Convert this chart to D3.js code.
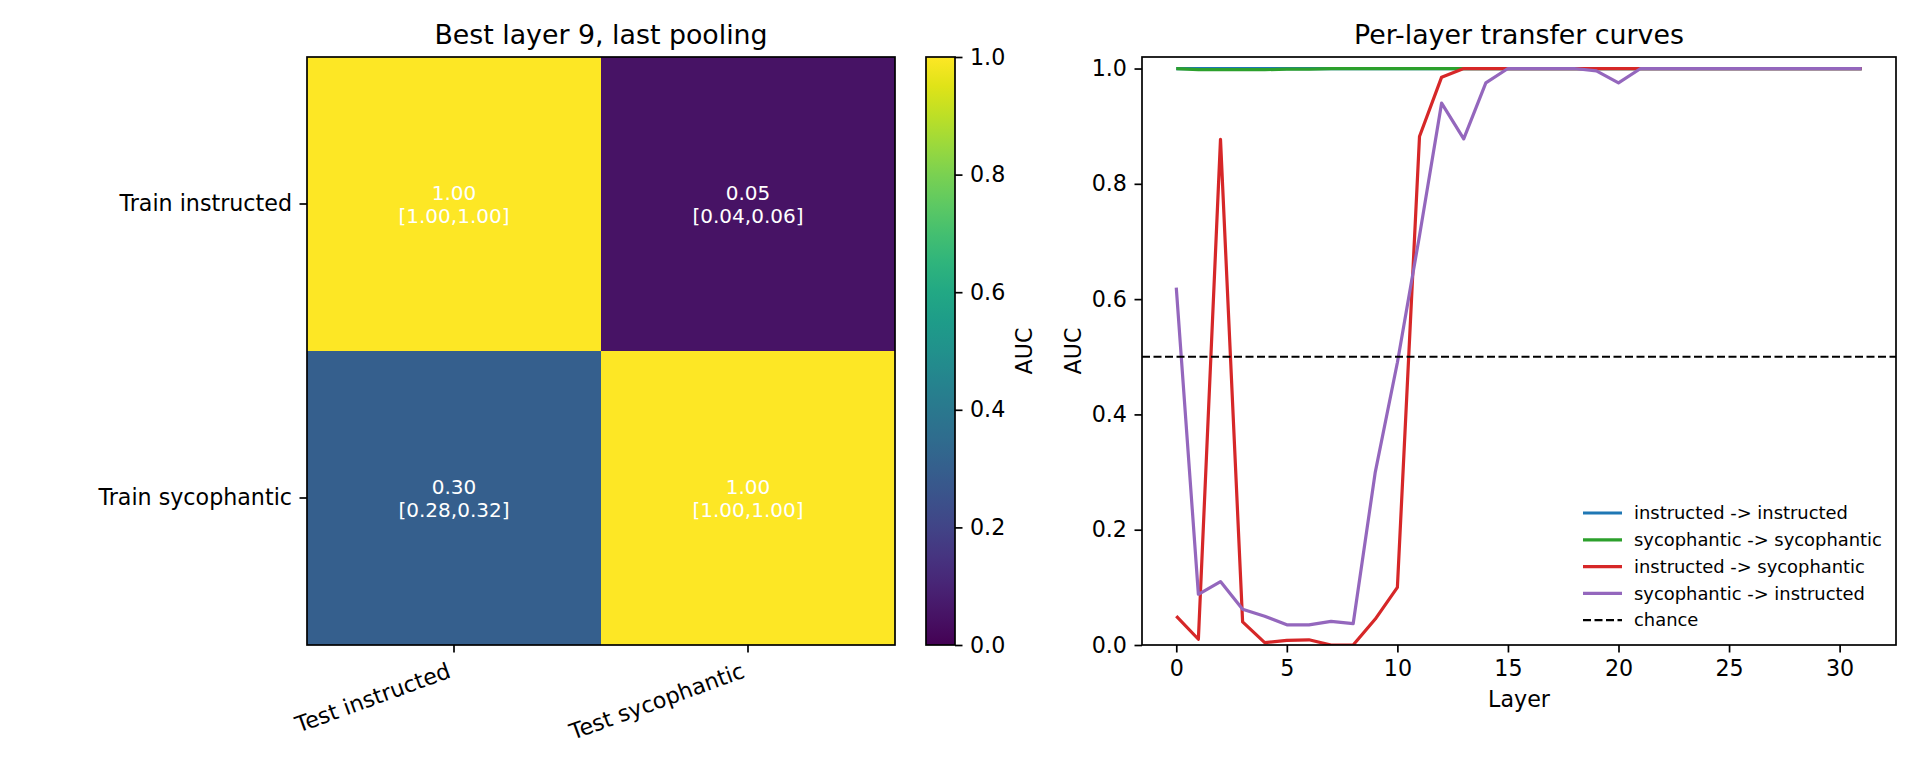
<!DOCTYPE html>
<html>
<head>
<meta charset="utf-8">
<script src="https://cdn.jsdelivr.net/npm/d3@7/dist/d3.min.js"></script>
<style>
body { margin: 0; background: #fff; }
svg, .axis { font-family: "DejaVu Sans", sans-serif; }
.axis path, .axis line { stroke: #000; stroke-width: 1.7; }
.axis text { font-family: "DejaVu Sans", sans-serif; font-size: 22.2px; fill: #000; }
.title { font-size: 26.8px; fill: #000; }
</style>
</head>
<body>
<svg id="fig" width="1920" height="768"></svg>
<script>
// heatmap data (best layer 9, last pooling)
var trainRows = ["Train instructed", "Train sycophantic"];
var testCols = ["Test instructed", "Test sycophantic"];
var aucMatrix = [[1.00, 0.05], [0.30, 1.00]];
var ciLow = [[1.00, 0.04], [0.28, 1.00]];
var ciHigh = [[1.00, 0.06], [0.32, 1.00]];
var cbarTicks = [0, 0.2, 0.4, 0.6, 0.8, 1.0];

// per-layer curves
var layers = [0,1,2,3,4,5,6,7,8,9,10,11,12,13,14,15,16,17,18,19,20,21,22,23,24,25,26,27,28,29,30,31];
var instrToInstr = [1,1,1,1,1,1,1,1,1,1,1,1,1,1,1,1,1,1,1,1,1,1,1,1,1,1,1,1,1,1,1,1];
var sycToSyc = [1.0,0.998,0.998,0.998,0.998,0.999,0.999,1,1,1,1,1,1,1,1,1,1,1,1,1,1,1,1,1,1,1,1,1,1,1,1,1];
var instrToSyc = [0.05,0.01,0.877,0.04,0.004,0.008,0.009,0.0,0.0,0.045,0.10,0.882,0.985,1,1,1,1,1,1,1,1,1,1,1,1,1,1,1,1,1,1,1];
var sycToInstr = [0.62,0.088,0.11,0.062,0.05,0.035,0.035,0.041,0.037,0.30,0.49,0.71,0.94,0.878,0.975,1,1,1,1,0.996,0.975,1,1,1,1,1,1,1,1,1,1,1];
var chance = 0.5;
var layerTicks = [0, 5, 10, 15, 20, 25, 30];
var aucTicks = [0.0, 0.2, 0.4, 0.6, 0.8, 1.0];

var seriesNames = ["instructed -> instructed", "sycophantic -> sycophantic", "instructed -> sycophantic", "sycophantic -> instructed"];
var seriesValues = [instrToInstr, sycToSyc, instrToSyc, sycToInstr];
var seriesColors = ["#1f77b4", "#2ca02c", "#d62728", "#9467bd"];

var svg = d3.select("#fig");
var fmt1 = d3.format(".1f"), fmt2 = d3.format(".2f");

// ---------- heatmap ----------
var hm = {left: 307, top: 57, size: 588};
var xh = d3.scaleBand().domain(testCols).range([hm.left, hm.left + hm.size]);
var yh = d3.scaleBand().domain(trainRows).range([hm.top, hm.top + hm.size]);
var cScale = d3.scaleSequential(d3.interpolateViridis).domain([0, 1]);

var cells = [];
trainRows.forEach(function(r, i) {
  testCols.forEach(function(c, j) {
    cells.push({row: r, col: c, v: aucMatrix[i][j], lo: ciLow[i][j], hi: ciHigh[i][j]});
  });
});

svg.append("g").selectAll("rect")
  .data(cells)
  .enter().append("rect")
  .attr("x", function(d) { return xh(d.col); })
  .attr("y", function(d) { return yh(d.row); })
  .attr("width", xh.bandwidth())
  .attr("height", yh.bandwidth())
  .attr("fill", function(d) { return cScale(d.v); });

var ann = svg.append("g").selectAll("text")
  .data(cells)
  .enter().append("text")
  .attr("text-anchor", "middle")
  .attr("fill", "#fff")
  .style("font-size", "20px");
ann.append("tspan")
  .attr("x", function(d) { return xh(d.col) + xh.bandwidth() / 2; })
  .attr("y", function(d) { return yh(d.row) + yh.bandwidth() / 2 - 4; })
  .text(function(d) { return fmt2(d.v); });
ann.append("tspan")
  .attr("x", function(d) { return xh(d.col) + xh.bandwidth() / 2; })
  .attr("y", function(d) { return yh(d.row) + yh.bandwidth() / 2 + 19; })
  .text(function(d) { return "[" + fmt2(d.lo) + "," + fmt2(d.hi) + "]"; });

svg.append("rect")
  .attr("x", hm.left).attr("y", hm.top)
  .attr("width", hm.size).attr("height", hm.size)
  .attr("fill", "none").attr("stroke", "#000").attr("stroke-width", 1.7);

svg.append("g")
  .attr("class", "axis")
  .attr("transform", "translate(" + hm.left + ",0)")
  .call(d3.axisLeft(yh).tickSize(7.5).tickPadding(7.5).tickSizeOuter(0))
  .call(function(g) { g.select(".domain").remove(); })
  .selectAll("text").attr("dy", "0.32em");

var xhAxis = svg.append("g")
  .attr("class", "axis")
  .attr("transform", "translate(0," + (hm.top + hm.size) + ")")
  .call(d3.axisBottom(xh).tickSize(7.5).tickSizeOuter(0));
xhAxis.select(".domain").remove();
xhAxis.selectAll("text")
  .attr("y", 0).attr("dy", 0)
  .attr("text-anchor", "end")
  .attr("transform", "translate(-2,32) rotate(-20)");

svg.append("text")
  .attr("class", "title")
  .attr("x", hm.left + hm.size / 2)
  .attr("y", 44)
  .attr("text-anchor", "middle")
  .text("Best layer 9, last pooling");

// ---------- colorbar ----------
var cb = {left: 926, width: 29, top: 57, height: 588};
var grad = svg.append("defs").append("linearGradient")
  .attr("id", "viridis").attr("x1", 0).attr("y1", 1).attr("x2", 0).attr("y2", 0);
grad.selectAll("stop")
  .data(d3.range(0, 1.0001, 0.05))
  .enter().append("stop")
  .attr("offset", function(d) { return d; })
  .attr("stop-color", function(d) { return cScale(d); });

svg.append("rect")
  .attr("x", cb.left).attr("y", cb.top)
  .attr("width", cb.width).attr("height", cb.height)
  .attr("fill", "url(#viridis)")
  .attr("stroke", "#000").attr("stroke-width", 1.7);

var yc = d3.scaleLinear().domain([0, 1]).range([cb.top + cb.height, cb.top]);
svg.append("g")
  .attr("class", "axis")
  .attr("transform", "translate(" + (cb.left + cb.width) + ",0)")
  .call(d3.axisRight(yc).tickValues(cbarTicks).tickFormat(fmt1).tickSize(7.5).tickPadding(7.5).tickSizeOuter(0))
  .call(function(g) { g.select(".domain").remove(); });

svg.append("text")
  .attr("transform", "translate(1032," + (cb.top + cb.height / 2) + ") rotate(-90)")
  .attr("text-anchor", "middle")
  .style("font-size", "22.2px")
  .text("AUC");

// ---------- per-layer curves ----------
var lp = {left: 1142, right: 1896, top: 57, bottom: 645};
var xl = d3.scaleLinear().domain([-1.55, 32.55]).range([lp.left, lp.right]);
var yl = d3.scaleLinear().domain([0, 1.02]).range([lp.bottom, lp.top]);

var line = d3.line()
  .x(function(d) { return xl(d[0]); })
  .y(function(d) { return yl(d[1]); });

svg.append("defs").append("clipPath").attr("id", "lpclip")
  .append("rect")
  .attr("x", lp.left).attr("y", lp.top)
  .attr("width", lp.right - lp.left).attr("height", lp.bottom - lp.top);

var plot = svg.append("g").attr("clip-path", "url(#lpclip)");

plot.selectAll("path.series")
  .data(seriesValues)
  .enter().append("path")
  .attr("class", "series")
  .attr("fill", "none")
  .attr("stroke", function(d, i) { return seriesColors[i]; })
  .attr("stroke-width", 3.2)
  .attr("stroke-linejoin", "round")
  .attr("d", function(vals) { return line(layers.map(function(l, k) { return [l, vals[k]]; })); });

plot.append("line")
  .attr("x1", lp.left).attr("x2", lp.right)
  .attr("y1", yl(chance)).attr("y2", yl(chance))
  .attr("stroke", "#000").attr("stroke-width", 2.16)
  .attr("stroke-dasharray", "8,3.5");

svg.append("rect")
  .attr("x", lp.left).attr("y", lp.top)
  .attr("width", lp.right - lp.left).attr("height", lp.bottom - lp.top)
  .attr("fill", "none").attr("stroke", "#000").attr("stroke-width", 1.7);

svg.append("g")
  .attr("class", "axis")
  .attr("transform", "translate(0," + lp.bottom + ")")
  .call(d3.axisBottom(xl).tickValues(layerTicks).tickFormat(d3.format("d")).tickSize(7.5).tickPadding(7.5).tickSizeOuter(0))
  .call(function(g) { g.select(".domain").remove(); });

svg.append("g")
  .attr("class", "axis")
  .attr("transform", "translate(" + lp.left + ",0)")
  .call(d3.axisLeft(yl).tickValues(aucTicks).tickFormat(fmt1).tickSize(7.5).tickPadding(7.5).tickSizeOuter(0))
  .call(function(g) { g.select(".domain").remove(); });

svg.append("text")
  .attr("class", "title")
  .attr("x", (lp.left + lp.right) / 2)
  .attr("y", 44)
  .attr("text-anchor", "middle")
  .text("Per-layer transfer curves");

svg.append("text")
  .attr("x", (lp.left + lp.right) / 2)
  .attr("y", 707)
  .attr("text-anchor", "middle")
  .style("font-size", "22.2px")
  .text("Layer");

svg.append("text")
  .attr("transform", "translate(1081," + ((lp.top + lp.bottom) / 2) + ") rotate(-90)")
  .attr("text-anchor", "middle")
  .style("font-size", "22.2px")
  .text("AUC");

// legend
var legendItems = seriesNames.map(function(n, i) { return {name: n, color: seriesColors[i], dash: null}; });
legendItems.push({name: "chance", color: "#000", dash: "8,3.5"});

var legend = svg.append("g")
  .selectAll("g")
  .data(legendItems)
  .enter().append("g")
  .attr("transform", function(d, i) { return "translate(1583," + (513 + i * 26.8) + ")"; });

legend.append("line")
  .attr("x1", 0).attr("x2", 39)
  .attr("stroke", function(d) { return d.color; })
  .attr("stroke-width", function(d) { return d.dash ? 2.16 : 3.2; })
  .attr("stroke-dasharray", function(d) { return d.dash; });

legend.append("text")
  .attr("x", 51)
  .attr("dy", "0.35em")
  .style("font-size", "17.9px")
  .text(function(d) { return d.name; });
</script>
</body>
</html>
